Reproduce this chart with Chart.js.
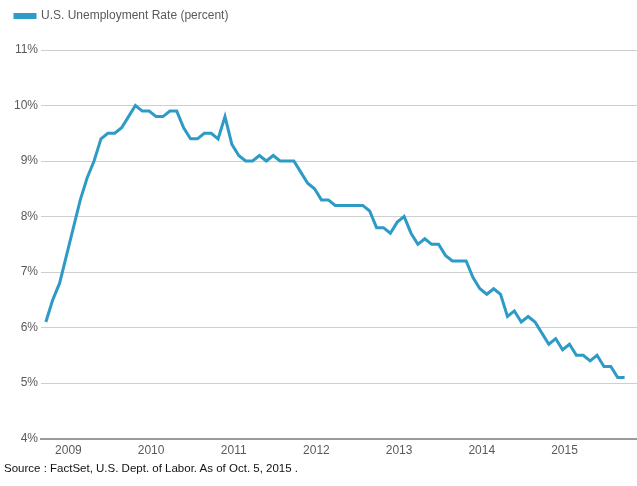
<!DOCTYPE html>
<html>
<head>
<meta charset="utf-8">
<title>U.S. Unemployment Rate</title>
<script src="https://cdn.jsdelivr.net/npm/chart.js@4/dist/chart.umd.min.js"></script>
<style>
  html, body { margin: 0; padding: 0; background: #fff; }
  #wrap { position: relative; width: 637px; height: 486px; }
  #source {
    position: absolute; left: 4px; top: 462px;
    font: 11.5px "Liberation Sans", Arial, sans-serif; color: #111;
  }
</style>
</head>
<body>
<div id="wrap">
  <canvas id="chart" width="637" height="486"></canvas>
  <div id="source">Source : FactSet, U.S. Dept. of Labor. As of Oct. 5, 2015 .</div>
</div>
<script>
// ── Data (monthly, Sep 2008 – Sep 2015) ─────────────────────
const seriesLabel = "U.S. Unemployment Rate (percent)";
const firstYear = 2008;
const firstMonth = 9; // September
const rates = [
  6.1, 6.5, 6.8, 7.3,                                         // 2008 Sep-Dec
  7.8, 8.3, 8.7, 9.0, 9.4, 9.5, 9.5, 9.6, 9.8, 10.0, 9.9, 9.9, // 2009
  9.8, 9.8, 9.9, 9.9, 9.6, 9.4, 9.4, 9.5, 9.5, 9.4, 9.8, 9.3,  // 2010
  9.1, 9.0, 9.0, 9.1, 9.0, 9.1, 9.0, 9.0, 9.0, 8.8, 8.6, 8.5,  // 2011
  8.3, 8.3, 8.2, 8.2, 8.2, 8.2, 8.2, 8.1, 7.8, 7.8, 7.7, 7.9,  // 2012
  8.0, 7.7, 7.5, 7.6, 7.5, 7.5, 7.3, 7.2, 7.2, 7.2, 6.9, 6.7,  // 2013
  6.6, 6.7, 6.6, 6.2, 6.3, 6.1, 6.2, 6.1, 5.9, 5.7, 5.8, 5.6,  // 2014
  5.7, 5.5, 5.5, 5.4, 5.5, 5.3, 5.3, 5.1, 5.1                  // 2015 Jan-Sep
];
const yearLabels = ["2009", "2010", "2011", "2012", "2013", "2014", "2015"];
const yTicks = [4, 5, 6, 7, 8, 9, 10, 11];

// month index of each January, counted from the first point
const janIndex = yearLabels.map((y) => (Number(y) - firstYear) * 12 - (firstMonth - 1));

const LINE = "#2d9bc6";
const TEXT = "#5a5a5a";
const FONT = "'Liberation Sans', Arial, sans-serif";

// extra room under the legend
const legendGap = {
  id: "legendGap",
  beforeInit(chart) {
    const fit = chart.legend.fit;
    chart.legend.fit = function () {
      fit.bind(this)();
      this.height += 18;
    };
  }
};

// ── Chart ───────────────────────────────────────────────────
new Chart(document.getElementById("chart"), {
  type: "line",
  plugins: [legendGap],
  data: {
    datasets: [{
      label: seriesLabel,
      data: rates.map((v, i) => ({ x: i, y: v })),
      borderColor: LINE,
      backgroundColor: LINE,
      borderWidth: 3,
      pointRadius: 0,
      tension: 0,
    }]
  },
  options: {
    responsive: false,
    animation: false,
    layout: { padding: { left: 11, right: 0, top: 6, bottom: 31 } },
    plugins: {
      legend: {
        position: "top",
        align: "start",
        labels: {
          boxWidth: 20,
          boxHeight: 3,
          padding: 4,
          color: TEXT,
          font: { family: FONT, size: 12 },
        }
      },
      tooltip: { enabled: false },
    },
    scales: {
      x: {
        type: "linear",
        min: -0.7,
        max: 85.8,
        afterBuildTicks: (scale) => {
          scale.ticks = janIndex.map((v) => ({ value: v }));
        },
        ticks: {
          autoSkip: false,
          maxRotation: 0,
          padding: -3,
          labelOffset: -5,
          color: TEXT,
          font: { family: FONT, size: 12 },
          callback: (v) => yearLabels[janIndex.indexOf(v)] ?? "",
        },
        grid: { display: false },
        border: { display: true, color: "#9a9a9a", width: 2 },
      },
      y: {
        min: 4,
        max: 11,
        afterBuildTicks: (scale) => {
          scale.ticks = yTicks.map((v) => ({ value: v }));
        },
        ticks: {
          padding: 3,
          color: TEXT,
          font: { family: FONT, size: 12 },
          callback: (v) => v + "%",
        },
        grid: { color: "#cfcfcf", lineWidth: 1, drawTicks: false },
        border: { display: false },
      }
    }
  }
});
</script>
</body>
</html>
